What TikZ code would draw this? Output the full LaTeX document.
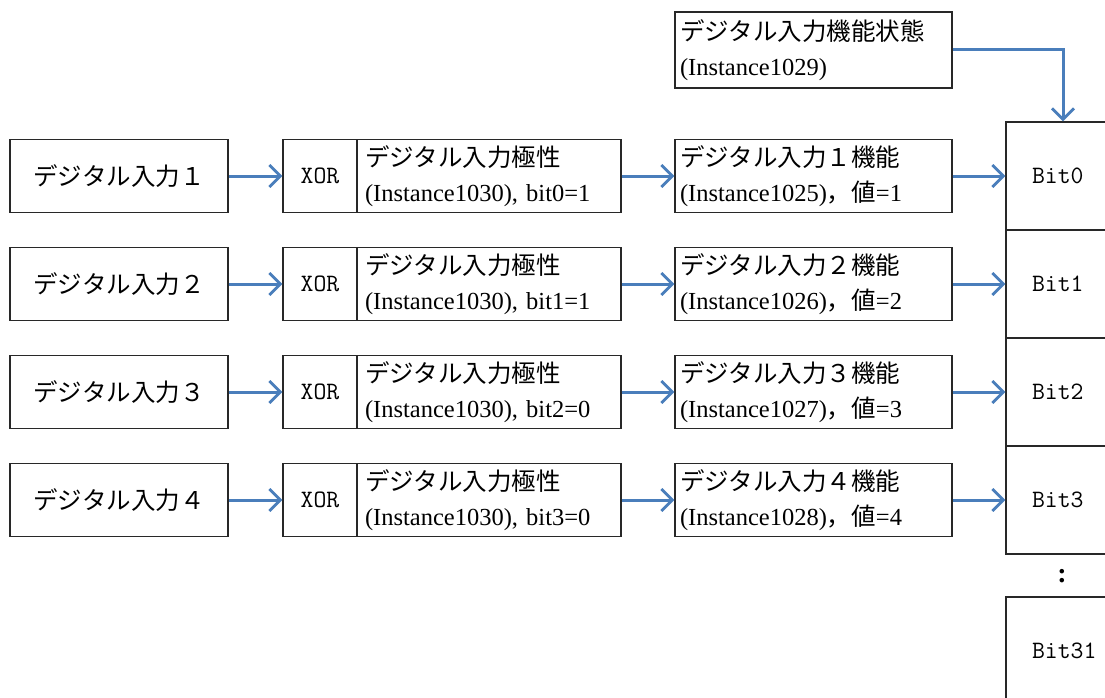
\documentclass[tikz,border=0pt]{standalone}
\usepackage{fontspec}
\setmainfont{Liberation Serif}
\newfontfamily\jp{Noto Sans CJK JP}
\usetikzlibrary{arrows.meta}
\definecolor{arrowblue}{RGB}{74,126,187}
\definecolor{boxline}{RGB}{40,40,40}
\tikzset{
  box/.style={draw=boxline, line width=1.4pt, rectangle, inner sep=0pt, font=\fontsize{24.5}{35}\selectfont},
  inbox/.style={box, minimum width=218pt, minimum height=73pt},
  xorbox/.style={box, minimum width=74pt, minimum height=73pt, font=\ttfamily\fontsize{25}{28}\selectfont},
  polbox/.style={box, minimum width=264pt, minimum height=73pt, text width=248pt, align=left},
  fnbox/.style={box, minimum width=277pt, minimum height=73pt, text width=267pt, align=left},
  bitbox/.style={box, minimum width=114pt, minimum height=108pt, text width=62pt, align=left, font=\ttfamily\fontsize{25}{28}\selectfont},
  flow/.style={draw=arrowblue, line width=3pt, -{Straight Barb[length=11pt,width=22pt,line width=2.8pt]}}
}
\begin{document}
\begin{tikzpicture}[x=1pt,y=-1pt]
\useasboundingbox (0,0) rectangle (1105,698);
\clip (0,0) rectangle (1105,698);
% status box
\node[fnbox, minimum height=76pt] (st) at (813.5,50) {{\jp デジタル入力機能状態}\\(Instance1029)};
% bit boxes
\node[bitbox] (b0) at (1063,176) {Bit0};
\node[bitbox] (b1) at (1063,284) {Bit1};
\node[bitbox] (b2) at (1063,392) {Bit2};
\node[bitbox] (b3) at (1063,500) {Bit3};
\node[bitbox] (b31) at (1063,651) {Bit31};
\node[font=\bfseries\fontsize{28}{28}\selectfont] (dots) at (1062,576) {:};
% rows
\foreach \i/\y/\b/\v/\inst in {1/176/0/1/1025, 2/284/1/1/1026, 3/392/2/0/1027, 4/500/3/0/1028}{
  \node[inbox] (in\i) at (119,\y) {{\jp デジタル入力\ifcase\i\or １\or ２\or ３\or ４\fi}};
  \node[xorbox] (x\i) at (320,\y) {XOR};
  \node[polbox] (p\i) at (489,\y) {{\jp デジタル入力極性}\\(Instance1030), bit\b=\v};
  \node[fnbox] (f\i) at (813.5,\y) {{\jp デジタル入力\ifcase\i\or １\or ２\or ３\or ４\fi 機能}\\(Instance\inst){\jp ，値}=\i};
  \draw[flow] (in\i.east) -- (x\i.west);
  \draw[flow] (p\i.east) -- (f\i.west);
}
\draw[flow] (f1.east) -- (b0.west);
\draw[flow] (f2.east) -- (b1.west);
\draw[flow] (f3.east) -- (b2.west);
\draw[flow] (f4.east) -- (b3.west);
\draw[flow] (st.east) -| (b0.north);
\end{tikzpicture}
\end{document}
